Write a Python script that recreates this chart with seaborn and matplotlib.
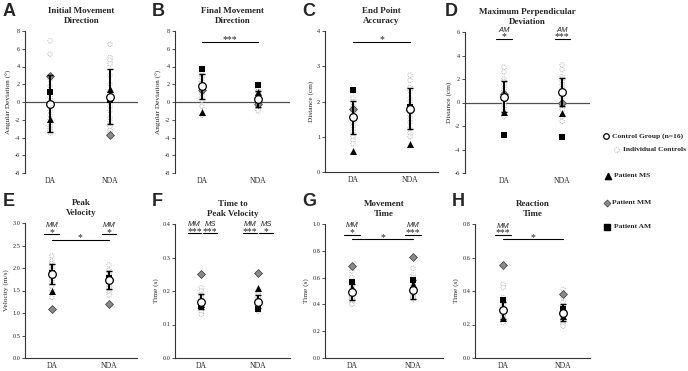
import numpy as np
import pandas as pd
import matplotlib.pyplot as plt
import seaborn as sns

# Dados (DA, NDA)
conditions = ["DA", "NDA"]

# A - Initial Movement Direction
ctrl_mean_A = [-0.2, 0.6]
ctrl_sd_A = [3.2, 3.1]
indiv_A_DA = [6.9, 5.4, 2.5, 1.8, 1.2, 0.5, 0.0, -0.5, -1.0, -1.5, -2.0, -2.4, -2.8, -3.0, -3.2, -3.5]
indiv_A_NDA = [6.5, 5.0, 4.7, 4.3, 3.0, 2.0, 1.2, 0.5, 0.0, -0.5, -1.0, -1.8, -2.2, -2.8, -3.2, -3.5]
ms_A = [-1.9, 1.5]
mm_A = [2.9, -3.7]
am_A = [1.1, 0.2]

# B - Final Movement Direction
ctrl_mean_B = [1.75, 0.35]
ctrl_sd_B = [1.45, 0.9]
indiv_B_DA = [3.2, 3.0, 2.8, 2.6, 2.3, 2.1, 1.9, 1.7, 1.5, 1.2, 1.0, 0.8, 0.5, 0.2, -0.5, -1.5]
indiv_B_NDA = [1.5, 1.2, 1.0, 0.8, 0.7, 0.5, 0.4, 0.3, 0.2, 0.1, 0.0, -0.2, -0.4, -0.6, -0.8, -1.0]
ms_B = [-1.1, 1.1]
mm_B = [1.3, -0.2]
am_B = [3.75, 1.95]

# C - End Point Accuracy
ctrl_mean_C = [1.55, 1.8]
ctrl_sd_C = [0.47, 0.57]
indiv_C_DA = [2.3, 2.1, 2.0, 1.95, 1.85, 1.8, 1.7, 1.6, 1.55, 1.5, 1.4, 1.3, 1.15, 1.0, 0.9, 0.8]
indiv_C_NDA = [2.75, 2.6, 2.4, 2.3, 2.1, 2.0, 1.9, 1.85, 1.8, 1.7, 1.6, 1.5, 1.4, 1.25, 1.1, 1.0]
ms_C = [0.6, 0.8]
mm_C = [1.8, 1.75]
am_C = [2.32, 1.85]

# D - Maximum Perpendicular Deviation
ctrl_mean_D = [0.5, 0.9]
ctrl_sd_D = [1.3, 1.2]
indiv_D_DA = [3.0, 2.6, 2.0, 1.8, 1.5, 1.2, 1.0, 0.8, 0.5, 0.3, 0.0, -0.3, -0.5, -0.8, -1.0, -1.2]
indiv_D_NDA = [3.2, 2.8, 2.2, 2.0, 1.8, 1.5, 1.2, 1.0, 0.8, 0.6, 0.3, 0.0, -0.3, -0.6, -1.2, -1.6]
ms_D = [-0.85, -0.9]
mm_D = [0.7, 0.0]
am_D = [-2.8, -2.95]

# E - Peak Velocity
ctrl_mean_E = [1.87, 1.73]
ctrl_sd_E = [0.23, 0.2]
indiv_E_DA = [2.27, 2.15, 2.1, 2.05, 2.0, 1.97, 1.93, 1.9, 1.88, 1.85, 1.8, 1.75, 1.7, 1.6, 1.5, 1.35]
indiv_E_NDA = [2.07, 1.95, 1.9, 1.85, 1.82, 1.8, 1.78, 1.75, 1.72, 1.7, 1.65, 1.6, 1.55, 1.5, 1.45, 1.4]
ms_E = [1.5, 1.75]
mm_E = [1.08, 1.2]
am_E = [1.9, 1.78]

# F - Time to Peak Velocity
ctrl_mean_F = [0.168, 0.168]
ctrl_sd_F = [0.022, 0.02]
indiv_F_DA = [0.21, 0.2, 0.19, 0.185, 0.18, 0.175, 0.17, 0.168, 0.165, 0.16, 0.158, 0.155, 0.15, 0.145, 0.14, 0.13]
indiv_F_NDA = [0.2, 0.195, 0.19, 0.185, 0.18, 0.175, 0.172, 0.17, 0.168, 0.165, 0.16, 0.155, 0.15, 0.148, 0.145, 0.14]
ms_F = [0.16, 0.21]
mm_F = [0.25, 0.255]
am_F = [0.155, 0.145]

# G - Movement Time
ctrl_mean_G = [0.49, 0.51]
ctrl_sd_G = [0.06, 0.07]
indiv_G_DA = [0.65, 0.6, 0.56, 0.54, 0.52, 0.51, 0.5, 0.49, 0.48, 0.47, 0.46, 0.45, 0.44, 0.43, 0.41, 0.4]
indiv_G_NDA = [0.67, 0.62, 0.6, 0.58, 0.56, 0.54, 0.52, 0.51, 0.5, 0.49, 0.48, 0.47, 0.46, 0.45, 0.45, 0.44]
ms_G = [0.52, 0.55]
mm_G = [0.69, 0.755]
am_G = [0.565, 0.585]

# H - Reaction Time
ctrl_mean_H = [0.285, 0.27]
ctrl_sd_H = [0.05, 0.05]
indiv_H_DA = [0.44, 0.42, 0.36, 0.33, 0.31, 0.3, 0.29, 0.28, 0.27, 0.26, 0.25, 0.25, 0.24, 0.23, 0.22, 0.21]
indiv_H_NDA = [0.41, 0.36, 0.33, 0.31, 0.3, 0.29, 0.28, 0.27, 0.26, 0.25, 0.24, 0.23, 0.22, 0.21, 0.2, 0.19]
ms_H = [0.24, 0.25]
mm_H = [0.555, 0.38]
am_H = [0.345, 0.29]

# barras de significancia DA x NDA: painel -> (y, estrelas)
cross_sig = {"B": (6.8, "***"), "C": (3.7, "*"), "E": (2.63, "*"), "G": (0.885, "*"), "H": (0.71, "*")}
# comparacoes paciente x controles: painel -> [(condicao, deslocamento, paciente, estrelas, y)]
patient_sig = {
    "D": [(0, 0.0, "AM", "*", 5.4), (1, 0.0, "AM", "***", 5.4)],
    "E": [(0, 0.0, "MM", "*", 2.75), (1, 0.0, "MM", "*", 2.75)],
    "F": [(0, -0.12, "MM", "***", 0.372), (0, 0.16, "MS", "***", 0.372),
          (1, -0.14, "MM", "***", 0.372), (1, 0.14, "MS", "*", 0.372)],
    "G": [(0, 0.0, "MM", "*", 0.92), (1, 0.0, "MM", "***", 0.92)],
    "H": [(0, 0.0, "MM", "***", 0.735)],
}

panels = [
    ("A", "Initial Movement\nDirection", "Angular Deviation (°)", ctrl_mean_A, ctrl_sd_A, indiv_A_DA, indiv_A_NDA, ms_A, mm_A, am_A),
    ("B", "Final Movement\nDirection", "Angular Deviation (°)", ctrl_mean_B, ctrl_sd_B, indiv_B_DA, indiv_B_NDA, ms_B, mm_B, am_B),
    ("C", "End Point\nAccuracy", "Distance (cm)", ctrl_mean_C, ctrl_sd_C, indiv_C_DA, indiv_C_NDA, ms_C, mm_C, am_C),
    ("D", "Maximum Perpendicular\nDeviation", "Distance (cm)", ctrl_mean_D, ctrl_sd_D, indiv_D_DA, indiv_D_NDA, ms_D, mm_D, am_D),
    ("E", "Peak\nVelocity", "Velocity (m/s)", ctrl_mean_E, ctrl_sd_E, indiv_E_DA, indiv_E_NDA, ms_E, mm_E, am_E),
    ("F", "Time to\nPeak Velocity", "Time (s)", ctrl_mean_F, ctrl_sd_F, indiv_F_DA, indiv_F_NDA, ms_F, mm_F, am_F),
    ("G", "Movement\nTime", "Time (s)", ctrl_mean_G, ctrl_sd_G, indiv_G_DA, indiv_G_NDA, ms_G, mm_G, am_G),
    ("H", "Reaction\nTime", "Time (s)", ctrl_mean_H, ctrl_sd_H, indiv_H_DA, indiv_H_NDA, ms_H, mm_H, am_H),
]

# layout em pixels: left, right, top, bottom, xlim, ylim, ticks, formato, eixo zero
W, H = 688, 371
layout = {
    "A": (25, 138, 31, 173, (-0.417, 1.467), (-8, 8), np.arange(-8, 9, 2), "{:.0f}", True),
    "B": (175, 290, 31, 173, (-0.48, 1.57), (-8, 8), np.arange(-8, 9, 2), "{:.0f}", True),
    "C": (325, 438, 31, 172, (-0.49, 1.49), (0, 4), np.arange(0, 5, 1), "{:.0f}", False),
    "D": (465, 590, 32, 173, (-0.67, 1.48), (-6, 6), np.arange(-6, 7, 2), "{:.0f}", True),
    "E": (25, 137, 223, 358, (-0.47, 1.49), (0, 3), np.arange(0, 3.01, 0.5), "{:.1f}", False),
    "F": (175, 290, 224, 358, (-0.46, 1.56), (0, 0.4), np.arange(0, 0.41, 0.1), "{:.1f}", False),
    "G": (325, 443, 224, 358, (-0.44, 1.49), (0, 1), np.arange(0, 1.01, 0.2), "{:.1f}", False),
    "H": (475, 590, 224, 358, (-0.47, 1.45), (0, 0.8), np.arange(0, 0.81, 0.2), "{:.1f}", False),
}
letter_pos = {"A": (3, 3), "B": (152, 3), "C": (302, 3), "D": (445, 3),
              "E": (3, 193), "F": (152, 193), "G": (302, 193), "H": (452, 193)}

sns.set_style("ticks")
plt.rcParams["font.family"] = ["Liberation Serif", "DejaVu Serif"]
SERIF = "Liberation Serif"
SANS = "Liberation Sans"

fig = plt.figure(figsize=(W / 100, H / 100), dpi=100)


def plot_panel(ax, mean, sd, indiv_da, indiv_nda, ms, mm, am):
    ind = pd.DataFrame({"cond": ["DA"] * len(indiv_da) + ["NDA"] * len(indiv_nda),
                        "val": indiv_da + indiv_nda})
    sns.stripplot(data=ind, x="cond", y="val", order=conditions, jitter=False, marker="o",
                  size=3.2, color="white", edgecolor="#b5b5b5", linewidth=0.7,
                  linestyle=(0, (1, 1)), ax=ax, zorder=2)
    sns.stripplot(x=conditions, y=ms, order=conditions, jitter=False, marker="^", size=5,
                  color="black", linewidth=0, ax=ax, zorder=3)
    sns.stripplot(x=conditions, y=mm, order=conditions, jitter=False, marker="D", size=4,
                  color="#8a8a8a", edgecolor="#4a4a4a", linewidth=0.6, ax=ax, zorder=3)
    sns.stripplot(x=conditions, y=am, order=conditions, jitter=False, marker="s", size=5,
                  color="black", linewidth=0, ax=ax, zorder=3)
    ax.errorbar([0, 1], mean, yerr=sd, fmt="none", ecolor="black", elinewidth=1.4,
                capsize=2, capthick=1, zorder=4)
    sns.stripplot(x=conditions, y=mean, order=conditions, jitter=False, marker="o", size=5.5,
                  color="white", edgecolor="black", linewidth=0.9, ax=ax, zorder=5)


def sig_line(ax, x0, x1, y, stars, label=None):
    ax.plot([x0, x1], [y, y], color="black", lw=0.8, clip_on=False)
    ax.annotate(stars, xy=((x0 + x1) / 2, y), xytext=(0, -0.4), textcoords="offset points",
                ha="center", va="baseline", fontsize=7, family=SERIF, annotation_clip=False)
    if label:
        ax.annotate(label, xy=((x0 + x1) / 2, y), xytext=(0, 5.2), textcoords="offset points",
                    ha="center", va="baseline", fontsize=5.5, style="italic", family=SANS,
                    annotation_clip=False)


for key, title, ylabel, mean, sd, i_da, i_nda, ms, mm, am in panels:
    l, r, t, b, xlim, ylim, ticks, fmt, zero_axis = layout[key]
    ax = fig.add_axes([l / W, 1 - b / H, (r - l) / W, (b - t) / H])
    plot_panel(ax, mean, sd, i_da, i_nda, ms, mm, am)

    ax.set_xlim(*xlim)
    ax.set_ylim(*ylim)
    ax.set_yticks(ticks)
    ax.set_yticklabels([fmt.format(v) for v in ticks], fontsize=4.5, family=SERIF)
    ax.set_xticks([0, 1])
    ax.set_xticklabels(conditions, fontsize=5.5, family=SERIF)
    ax.tick_params(axis="x", length=0, pad=3)
    ax.tick_params(axis="y", length=2, width=0.6, pad=1.5, color="#333333")
    ax.set_xlabel("")
    ax.set_ylabel(ylabel, fontsize=5.2, family=SERIF, labelpad=2)
    ax.set_title(title, fontsize=6.5, fontweight="bold", family=SERIF, pad=6, linespacing=1.3)
    sns.despine(ax=ax)
    ax.spines["left"].set_linewidth(0.8)
    ax.spines["left"].set_color("#333333")
    if zero_axis:
        ax.spines["bottom"].set_visible(False)
        ax.axhline(0, color="#505050", lw=0.9, zorder=1)
    else:
        ax.spines["bottom"].set_linewidth(0.8)
        ax.spines["bottom"].set_color("#333333")

    if key in cross_sig:
        y, stars = cross_sig[key]
        sig_line(ax, 0, 1, y, stars)
    for cond, dx, pat, stars, y in patient_sig.get(key, []):
        half = 0.12 if key == "F" else 0.13
        sig_line(ax, cond + dx - half, cond + dx + half, y, stars, pat)

    lx, ly = letter_pos[key]
    fig.text(lx / W, 1 - ly / H, key, fontsize=13, fontweight="bold", family=SANS,
             ha="left", va="top")

# legenda desenhada a mao (coordenadas em pixels)
leg = fig.add_axes([595 / W, 1 - 240 / H, 93 / W, 115 / H])
leg.set_xlim(595, 688)
leg.set_ylim(240, 125)
leg.axis("off")
leg.scatter([606], [136], s=16, marker="o", facecolor="white", edgecolor="black", linewidth=0.9)
leg.scatter([617], [150], s=12, marker="o", facecolor="white", edgecolor="#b5b5b5",
            linewidth=0.7, linestyle=(0, (1, 1)))
leg.scatter([608], [176], s=20, marker="^", color="black")
leg.scatter([607], [203], s=12, marker="D", facecolor="#8a8a8a", edgecolor="#4a4a4a", linewidth=0.6)
leg.scatter([607], [227], s=20, marker="s", color="black")
legend_items = [(612, 136, "Control Group (n=16)"), (623, 150, "Individual Controls"),
                (614, 176, "Patient MS"), (612, 203, "Patient MM"), (614, 227, "Patient AM")]
for x, y, txt in legend_items:
    leg.text(x, y, txt, fontsize=5.4, fontweight="bold", family=SERIF, va="center", ha="left")

fig.savefig("out.png", dpi=100)
